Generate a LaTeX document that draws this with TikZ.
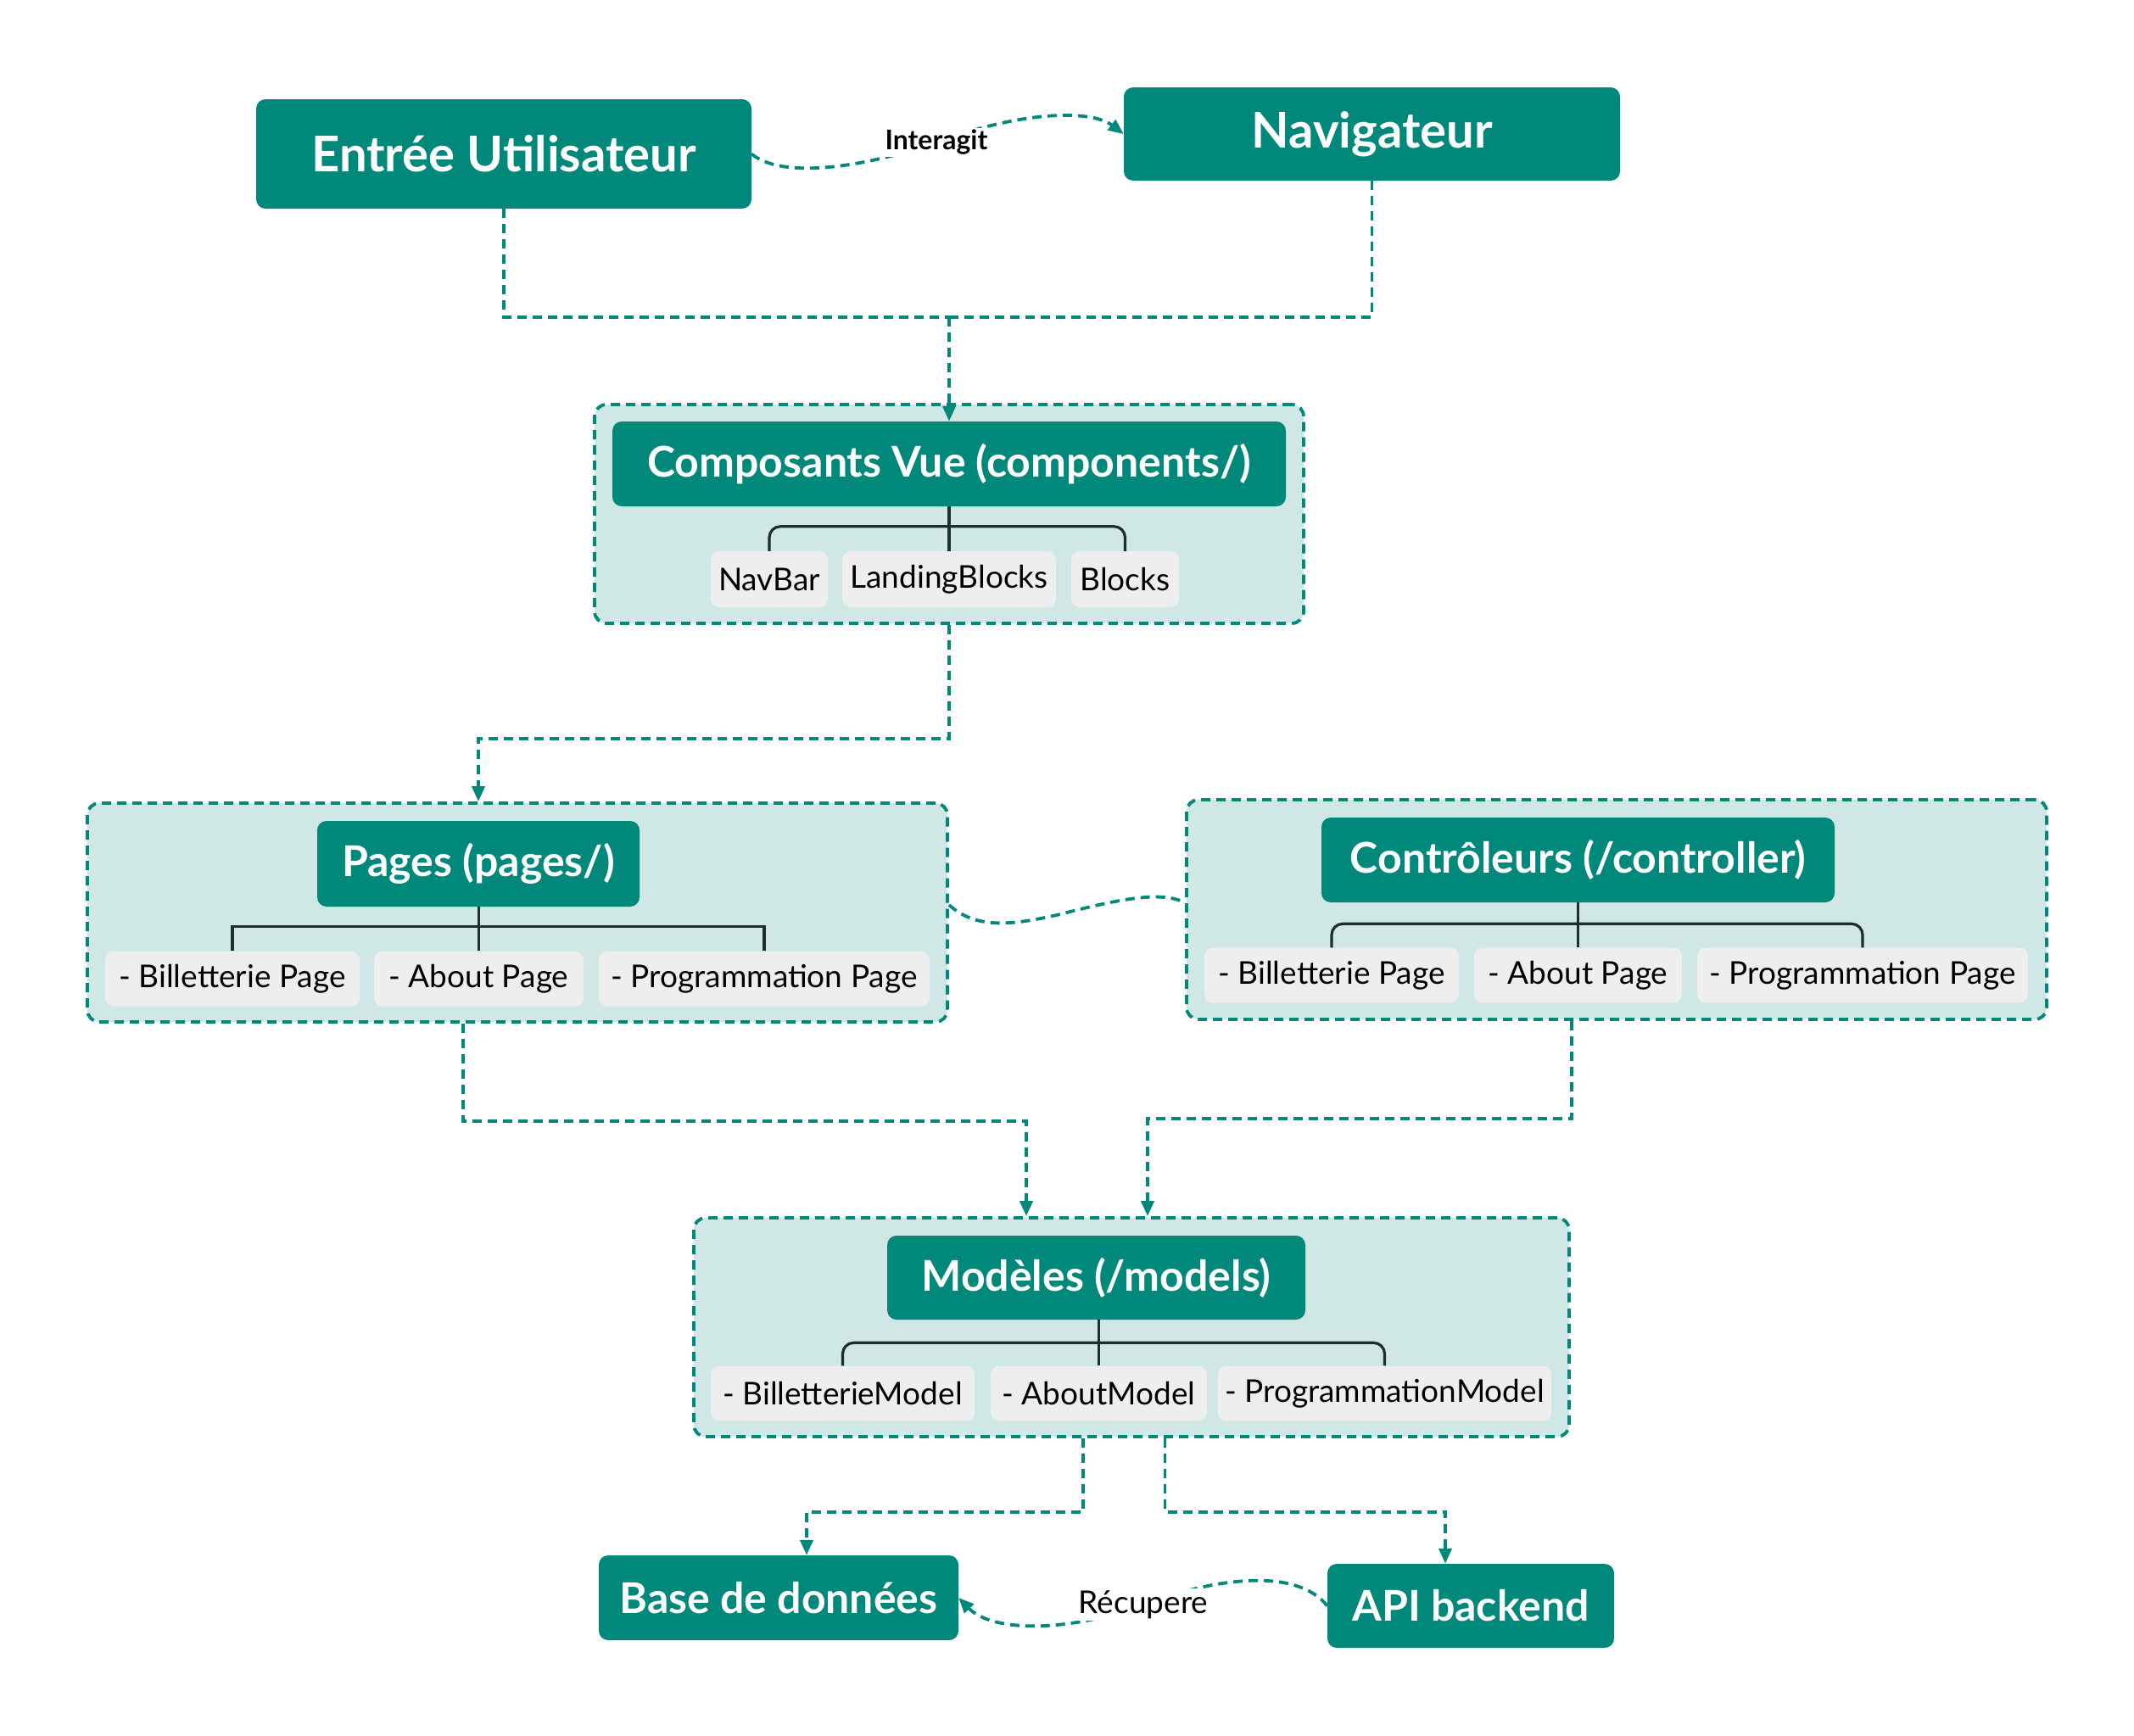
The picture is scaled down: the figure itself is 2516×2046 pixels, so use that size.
\documentclass[tikz,border=0pt]{standalone}
\usepackage{fontspec}
\setmainfont{Lato}
\usetikzlibrary{arrows.meta,calc}
\definecolor{teal1}{HTML}{00897B}
\definecolor{contfill}{HTML}{CFE7E5}
\definecolor{childfill}{HTML}{EEEEEE}
\definecolor{treeline}{HTML}{1E2D2D}
\tikzset{
  mainbox/.style={fill=teal1, text=white, rounded corners=11pt, inner sep=0pt, font=\fontsize{50}{56}\selectfont\bfseries},
  topbox/.style={mainbox, font=\fontsize{58}{64}\selectfont\bfseries},
  contbox/.style={fill=contfill, draw=teal1, line width=3.8pt, dash pattern=on 11pt off 7pt, rounded corners=14pt, inner sep=0pt},
  childbox/.style={fill=childfill, rounded corners=10pt, inner sep=0pt, minimum height=65pt, font=\fontsize{37}{42}\selectfont},
  conn/.style={draw=teal1, line width=3.8pt, dash pattern=on 11pt off 7pt},
  arr/.style={conn, -{Triangle[length=18pt,width=15pt]}},
  tree/.style={draw=treeline, line width=3.2pt},
  lbl/.style={fill=white, inner sep=2pt, text=black},
}
\begin{document}
\begin{tikzpicture}[x=1pt,y=-1pt]
\useasboundingbox[fill=white] (0,0) rectangle (2516,2046);

% top nodes
\node[topbox, minimum width=584pt, minimum height=129pt] (entree) at (594,181.5) {Entrée Utilisateur};
\node[topbox, minimum width=585pt, minimum height=110pt] (nav) at (1617.5,158) {Navigateur};

% containers
\node[contbox, minimum width=836pt, minimum height=258pt] (compC) at (1119,606) {};
\node[contbox, minimum width=1014pt, minimum height=258pt] (pagesC) at (610,1076) {};
\node[contbox, minimum width=1014pt, minimum height=259pt] (ctrlC) at (1906,1072.5) {};
\node[contbox, minimum width=1032pt, minimum height=258pt] (modC) at (1334,1565) {};

% composants
\node[mainbox, minimum width=794pt, minimum height=100pt] (comp) at (1119,547) {Composants Vue (components/)};
\node[childbox, minimum width=138pt, minimum height=66pt] (nb) at (907,683) {NavBar};
\node[childbox, minimum width=252pt, minimum height=66pt] (lb) at (1119,683) {LandingBlocks};
\node[childbox, minimum width=127pt, minimum height=66pt] (bl) at (1326.5,683) {Blocks};
\draw[tree] (lb.north |- comp.south) -- (lb.north);
\draw[tree, rounded corners=13pt] (nb.north) |- ([yshift=29pt]lb.north) -| (bl.north);

% pages
\node[mainbox, minimum width=380pt, minimum height=101pt] (pages) at (564,1018.5) {Pages (pages/)};
\node[childbox, minimum width=300pt] (pb) at (274,1154) {- Billetterie Page};
\node[childbox, minimum width=247pt] (pa) at (564.5,1154) {- About Page};
\node[childbox, minimum width=390pt] (pp) at (901,1154) {- Programmation Page};
\draw[tree] (pa.north |- pages.south) -- (pa.north);
\draw[tree] (pb.north) |- ([yshift=29pt]pa.north) -| (pp.north);

% controleurs
\node[mainbox, minimum width=605pt, minimum height=100pt] (ctrl) at (1860.5,1014) {Contrôleurs (/controller)};
\node[childbox, minimum width=300pt] (cb) at (1570,1150) {- Billetterie Page};
\node[childbox, minimum width=245pt] (ca) at (1860.5,1150) {- About Page};
\node[childbox, minimum width=390pt] (cp) at (2196,1150) {- Programmation Page};
\draw[tree] (ca.north |- ctrl.south) -- (ca.north);
\draw[tree, rounded corners=13pt] (cb.north) |- ([yshift=28pt]ca.north) -| (cp.north);

% modeles
\node[mainbox, minimum width=493pt, minimum height=99pt] (mod) at (1292.5,1506.5) {Modèles (/models)};
\node[childbox, minimum width=311pt] (mb) at (993.5,1643) {- BilletterieModel};
\node[childbox, minimum width=255pt] (ma) at (1295.5,1643) {- AboutModel};
\node[childbox, minimum width=393pt] (mp) at (1632.5,1643) {- ProgrammationModel};
\draw[tree] (ma.north |- mod.south) -- (ma.north);
\draw[tree, rounded corners=13pt] (mb.north) |- ([yshift=27pt]ma.north) -| (mp.north);

% bottom nodes
\node[mainbox, minimum width=424pt, minimum height=100pt] (base) at (918,1884) {Base de données};
\node[mainbox, minimum width=338pt, minimum height=99pt] (api) at (1734,1893.5) {API backend};

% connectors
\coordinate (j1) at (1119,374);
\draw[conn] (entree.south) |- (j1);
\draw[conn] (nav.south) |- (j1);
\draw[arr] (j1) -- (comp.north);

\draw[arr] (compC.south) |- ($(pages.north)+(0,-97)$) -- (pagesC.north -| pages.north);

\draw[arr] ([xshift=-64pt]pagesC.south) |- ($(modC.north)+(-124,-112)$) -- ([xshift=-124pt]modC.north);
\draw[arr] ([xshift=-53pt]ctrlC.south) |- ($(modC.north)+(19,-115)$) -- ([xshift=19pt]modC.north);

\draw[arr] ([xshift=-57pt]modC.south) |- ($(base.north)+(33,-51)$) -- ([xshift=33pt]base.north);
\draw[arr] ([xshift=39.5pt]modC.south) |- ($(api.north)+(-30,-61)$) -- ([xshift=-30pt]api.north);

% wavy connectors
\draw[arr] (entree.east) .. controls (920,210) and (1010,200) .. (1104,168) coordinate (lab1) .. controls (1200,132) and (1285,128) .. (nav.west);
\node[lbl, font=\fontsize{32}{36}\selectfont\bfseries] (interagit) at (lab1) {Interagit};

\draw[conn] ([yshift=9pt]pagesC.east) .. controls (1150,1095) and (1190,1092) .. (1250,1078) .. controls (1320,1060) and (1370,1050) .. ([yshift=8pt]ctrlC.west);

\draw[arr] (api.west) .. controls (1530,1850) and (1440,1858) .. (1348,1892) coordinate (lab2) .. controls (1260,1925) and (1170,1925) .. (base.east);
\node[lbl, font=\fontsize{37}{42}\selectfont] (recup) at (lab2) {Récupere};
\end{tikzpicture}
\end{document}
